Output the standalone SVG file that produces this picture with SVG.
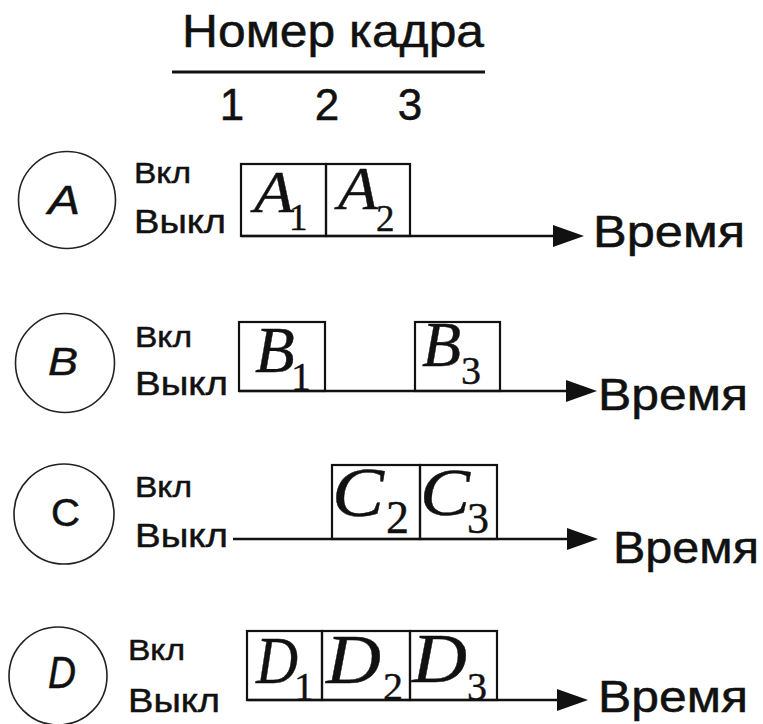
<svg xmlns="http://www.w3.org/2000/svg" width="763" height="724" viewBox="0 0 763 724">
  <style>
    .sans { font-family: "Liberation Sans", Arial, sans-serif; fill: #111; stroke: #111; stroke-width: 0.5; }
    .num { text-anchor: middle; }
    .it { font-style: italic; }
    .ring { fill: none; stroke: #222; stroke-width: 1.6; }
    .frame { fill: none; stroke: #111; stroke-width: 2.2; }
    .frm { font-family: "Liberation Serif", "Times New Roman", serif; font-style: italic; fill: #111; stroke: #111; stroke-width: 0.4; }
    .sub { font-family: "Liberation Serif", "Times New Roman", serif; fill: #111; stroke: #111; stroke-width: 0.4; }
    .axis { fill: none; stroke: #111; stroke-width: 2.6; }
    .rule { stroke: #111; stroke-width: 3; }
  </style>
  <defs>
    <marker id="head" markerUnits="userSpaceOnUse" markerWidth="31" markerHeight="22" refX="21" refY="11" orient="auto">
      <path d="M0,0 L31,11 L0,22 Z" fill="#111"/>
    </marker>
  </defs>

  <rect width="763" height="724" fill="#fff"/>

  <!-- frame-number header -->
  <g id="header">
    <text class="sans" x="182" y="47" font-size="46" textLength="302" lengthAdjust="spacingAndGlyphs">Номер кадра</text>
    <line class="rule" x1="172" y1="72" x2="485" y2="72"/>
    <text class="sans num" x="232" y="120" font-size="44">1</text>
    <text class="sans num" x="327" y="120" font-size="44">2</text>
    <text class="sans num" x="410" y="120" font-size="44">3</text>
  </g>

  <!-- time axes -->
  <g id="connectors">
    <line class="axis" x1="241" y1="236" x2="574" y2="236" marker-end="url(#head)"/>
    <line class="axis" x1="239" y1="391" x2="587" y2="391" marker-end="url(#head)"/>
    <line class="axis" x1="233" y1="539" x2="588" y2="539" marker-end="url(#head)"/>
    <line class="axis" x1="247" y1="700" x2="578" y2="700" marker-end="url(#head)"/>
  </g>

  <!-- signal A -->
  <g id="sigA">
    <circle class="ring" cx="67" cy="200" r="48.5"/>
    <text class="sans it" x="48" y="214" font-size="40" textLength="32" lengthAdjust="spacingAndGlyphs">A</text>
    <text class="sans" x="134" y="183" font-size="30" textLength="57" lengthAdjust="spacingAndGlyphs">Вкл</text>
    <text class="sans" x="134" y="233" font-size="34" textLength="92" lengthAdjust="spacingAndGlyphs">Выкл</text>
    <text class="sans" x="593" y="247" font-size="44" textLength="152" lengthAdjust="spacingAndGlyphs">Время</text>
  </g>
  <g id="A1">
    <rect class="frame" x="241" y="164" width="85" height="72"/>
    <text class="frm" x="254" y="212" font-size="60" textLength="40" lengthAdjust="spacingAndGlyphs">A</text>
    <text class="sub" x="289" y="230" font-size="37">1</text>
  </g>
  <g id="A2">
    <rect class="frame" x="326" y="164" width="84" height="72"/>
    <text class="frm" x="338" y="209" font-size="62" textLength="40" lengthAdjust="spacingAndGlyphs">A</text>
    <text class="sub" x="376" y="231" font-size="37">2</text>
  </g>

  <!-- signal B -->
  <g id="sigB">
    <circle class="ring" cx="65" cy="363" r="49.5"/>
    <text class="sans it" x="48" y="375" font-size="39" textLength="30" lengthAdjust="spacingAndGlyphs">B</text>
    <text class="sans" x="135" y="347" font-size="30" textLength="57" lengthAdjust="spacingAndGlyphs">Вкл</text>
    <text class="sans" x="135" y="395" font-size="34" textLength="93" lengthAdjust="spacingAndGlyphs">Выкл</text>
    <text class="sans" x="598" y="410" font-size="44" textLength="150" lengthAdjust="spacingAndGlyphs">Время</text>
  </g>
  <g id="B1">
    <rect class="frame" x="239" y="322" width="86" height="69"/>
    <text class="frm" x="255" y="372" font-size="65">B</text>
    <text class="sub" x="291" y="390" font-size="40">1</text>
  </g>
  <g id="B3">
    <rect class="frame" x="415" y="322" width="85" height="69"/>
    <text class="frm" x="422" y="366" font-size="64">B</text>
    <text class="sub" x="461" y="384" font-size="40">3</text>
  </g>

  <!-- signal C -->
  <g id="sigC">
    <circle class="ring" cx="64" cy="514" r="50"/>
    <text class="sans" x="51" y="526" font-size="38" textLength="29" lengthAdjust="spacingAndGlyphs">C</text>
    <text class="sans" x="135" y="497" font-size="30" textLength="57" lengthAdjust="spacingAndGlyphs">Вкл</text>
    <text class="sans" x="135" y="547" font-size="34" textLength="93" lengthAdjust="spacingAndGlyphs">Выкл</text>
    <text class="sans" x="613" y="563" font-size="44" textLength="146" lengthAdjust="spacingAndGlyphs">Время</text>
  </g>
  <g id="C2">
    <rect class="frame" x="332" y="465" width="88" height="74"/>
    <text class="frm" x="332" y="516" font-size="70" textLength="52" lengthAdjust="spacingAndGlyphs">C</text>
    <text class="sub" x="386" y="533" font-size="46">2</text>
  </g>
  <g id="C3">
    <rect class="frame" x="420" y="465" width="77" height="74"/>
    <text class="frm" x="420" y="515" font-size="68" textLength="50" lengthAdjust="spacingAndGlyphs">C</text>
    <text class="sub" x="467" y="533" font-size="44">3</text>
  </g>

  <!-- signal D -->
  <g id="sigD">
    <circle class="ring" cx="58" cy="676" r="49"/>
    <text class="sans it" x="48" y="688" font-size="44" textLength="28" lengthAdjust="spacingAndGlyphs">D</text>
    <text class="sans" x="128" y="660" font-size="30" textLength="57" lengthAdjust="spacingAndGlyphs">Вкл</text>
    <text class="sans" x="128" y="712" font-size="34" textLength="92" lengthAdjust="spacingAndGlyphs">Выкл</text>
    <text class="sans" x="598" y="712" font-size="44" textLength="150" lengthAdjust="spacingAndGlyphs">Время</text>
  </g>
  <g id="D1">
    <rect class="frame" x="247" y="631" width="75" height="69"/>
    <text class="frm" x="256" y="683" font-size="68" textLength="42" lengthAdjust="spacingAndGlyphs">D</text>
    <text class="sub" x="294" y="700" font-size="40">1</text>
  </g>
  <g id="D2">
    <rect class="frame" x="322" y="631" width="88" height="69"/>
    <text class="frm" x="326" y="683" font-size="69" textLength="55" lengthAdjust="spacingAndGlyphs">D</text>
    <text class="sub" x="383" y="700" font-size="40">2</text>
  </g>
  <g id="D3">
    <rect class="frame" x="410" y="631" width="87" height="69"/>
    <text class="frm" x="412" y="682" font-size="69" textLength="55" lengthAdjust="spacingAndGlyphs">D</text>
    <text class="sub" x="467" y="700" font-size="40">3</text>
  </g>
</svg>
